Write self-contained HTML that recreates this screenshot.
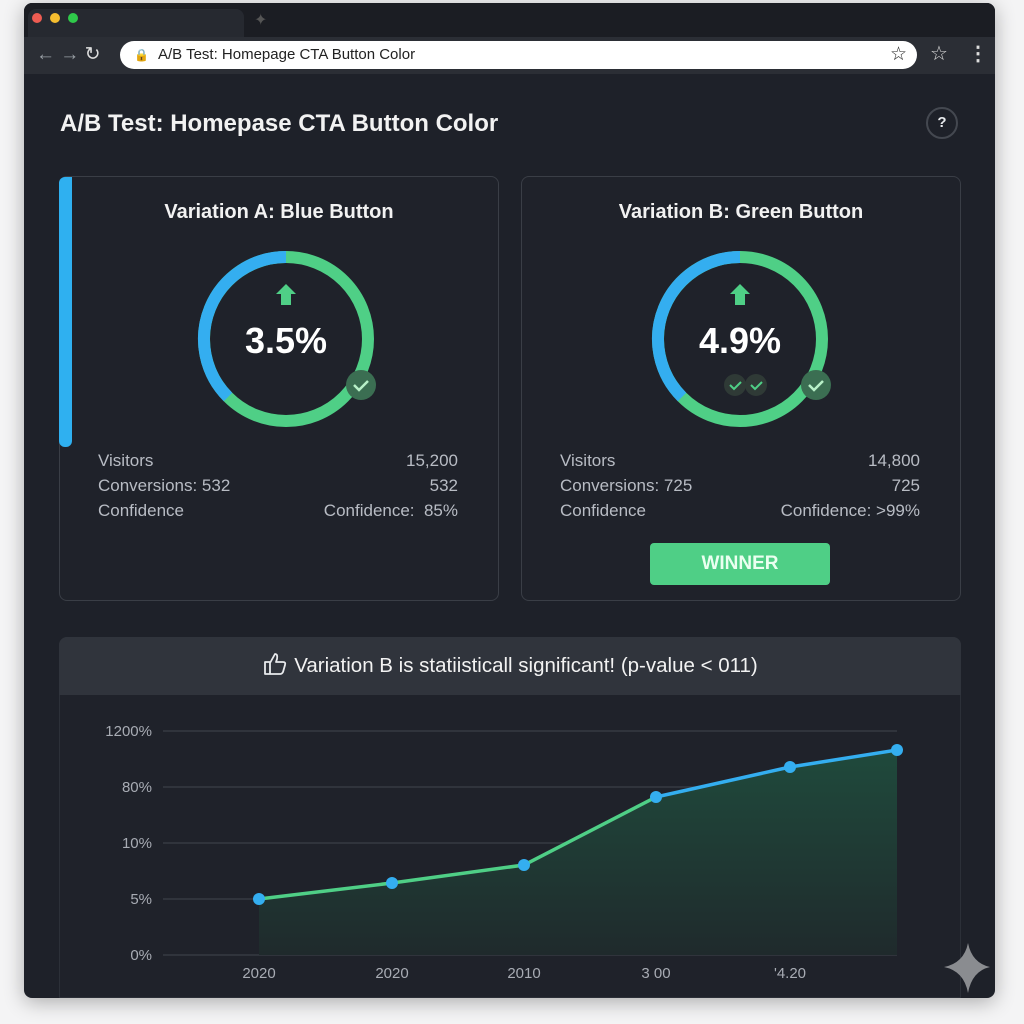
<!DOCTYPE html>
<html><head><meta charset="utf-8"><style>
*{margin:0;padding:0;box-sizing:border-box}
body{width:1024px;height:1024px;background:#f4f4f5;position:relative;overflow:hidden;font-family:"Liberation Sans",sans-serif;color:#e8eaed}
.win{position:absolute;left:24px;top:3px;width:971px;height:995px;background:#1e2129;border-radius:8px;overflow:hidden;box-shadow:0 4px 20px rgba(0,0,0,.3)}
.tabbar{position:absolute;left:0;top:0;width:100%;height:34px;background:#1b1d23}
.tab{position:absolute;left:4px;top:6px;width:216px;height:30px;background:#262930;border-radius:8px 8px 0 0}
.dot{position:absolute;top:10px;width:10px;height:10px;border-radius:50%}
.toolbar{position:absolute;left:0;top:34px;width:100%;height:37px;background:#2b2e35}
.url{position:absolute;left:96px;top:4px;width:797px;height:28px;background:#fff;border-radius:14px;color:#222;font-size:15px;line-height:28px;padding-left:38px}
.card{position:absolute;top:173px;width:440px;height:425px;border:1.5px solid #3a3e46;border-radius:8px;background:#1f222a}
.ct{position:absolute;top:24px;width:100%;text-align:center;font-size:20px;font-weight:bold;color:#f2f2f2}
.row{position:absolute;left:38px;right:40px;font-size:17px;color:#b8bcc4;display:flex;justify-content:space-between}
.big{position:absolute;width:100%;text-align:center;font-size:36px;font-weight:bold;color:#fff}
</style></head><body>
<div class="win">
 <div class="tabbar"><div class="tab"></div>
  <div class="dot" style="left:8px;background:#ee5c52"></div><div class="dot" style="left:26px;background:#f5bd2f"></div><div class="dot" style="left:44px;background:#2fc94a"></div>
  <div style="position:absolute;left:230px;top:7px;color:#555;font-size:16px">✦</div></div>
 <div class="toolbar">
  <div style="position:absolute;left:12px;top:6px;color:#9aa0a6;font-size:19px">← → <span style="color:#ddd">↻</span></div>
  <div class="url"><span style="position:absolute;left:14px;top:0;font-size:12px">🔒</span>A/B Test: Homepage CTA Button Color<span style="position:absolute;right:10px;top:0;font-size:19px">☆</span></div>
  <div style="position:absolute;left:906px;top:4px;color:#ddd;font-size:20px">☆</div>
  <div style="position:absolute;left:944px;top:4px;color:#ddd;font-size:20px;font-weight:bold">⋮</div>
 </div>
 <div style="position:absolute;left:36px;top:107px;font-size:24px;font-weight:bold;color:#f2f2f2">A/B Test: Homepase CTA Button Color</div>
 <div style="position:absolute;left:902px;top:104px;width:32px;height:32px;border:2px solid #444850;border-radius:50%;text-align:center;line-height:28px;font-size:15px;font-weight:bold">?</div>

 <div class="card" style="left:35px">
  <div style="position:absolute;left:-1px;top:0;width:13px;height:270px;background:#2fb0f0;border-radius:6px 0 6px 6px"></div>
  <div class="ct">Variation A: Blue Button</div>
  <svg style="position:absolute;left:0;top:0" width="440" height="300">
   <circle cx="226" cy="162" r="82" fill="none" stroke="#4fcf86" stroke-width="12"/>
   <path d="M226 80 A82 82 0 0 0 168 220" fill="none" stroke="#34aef0" stroke-width="12"/>
   <polygon points="226,107 236,117 231,117 231,128 221,128 221,117 216,117" fill="#4fcf86"/>
   <circle cx="301" cy="208" r="15" fill="#3b6e52"/>
   <path d="M294 208 l5 5 l9 -9" stroke="#b8f0c8" stroke-width="2.5" fill="none"/>
  </svg>
  <div class="big" style="left:0;top:143px;width:452px">3.5%</div>
  <div class="row" style="top:274px"><span>Visitors</span><span>15,200</span></div>
  <div class="row" style="top:299px"><span>Conversions: 532</span><span>532</span></div>
  <div class="row" style="top:324px"><span>Confidence</span><span>Confidence:&nbsp; 85%</span></div>
 </div>

 <div class="card" style="left:497px">
  <div class="ct">Variation B: Green Button</div>
  <svg style="position:absolute;left:0;top:0" width="440" height="300">
   <circle cx="218" cy="162" r="82" fill="none" stroke="#4fcf86" stroke-width="12"/>
   <path d="M218 80 A82 82 0 0 0 160 220" fill="none" stroke="#34aef0" stroke-width="12"/>
   <polygon points="218,107 228,117 223,117 223,128 213,128 213,117 208,117" fill="#4fcf86"/>
   <circle cx="294" cy="208" r="15" fill="#3b6e52"/>
   <path d="M287 208 l5 5 l9 -9" stroke="#b8f0c8" stroke-width="2.5" fill="none"/>
   <circle cx="213" cy="208" r="11" fill="#2f3a36"/><circle cx="234" cy="208" r="11" fill="#2f3a36"/>
   <path d="M208 208 l4 4 l7 -7 M229 208 l4 4 l7 -7" stroke="#4fcf86" stroke-width="2" fill="none"/>
  </svg>
  <div class="big" style="left:0;top:143px;width:436px">4.9%</div>
  <div class="row" style="top:274px"><span>Visitors</span><span>14,800</span></div>
  <div class="row" style="top:299px"><span>Conversions: 725</span><span>725</span></div>
  <div class="row" style="top:324px"><span>Confidence</span><span>Confidence: &gt;99%</span></div>
  <div style="position:absolute;left:128px;top:366px;width:180px;height:42px;background:#4fcf86;border-radius:4px;text-align:center;line-height:42px;font-size:19px;font-weight:bold;color:#eafff0">WINNER</div>
 </div>

 <div style="position:absolute;left:35px;top:634px;width:902px;height:361px;background:#1f222a;border:1px solid #2c3038;border-radius:8px 8px 0 0"></div>
 <div style="position:absolute;left:35px;top:634px;width:902px;height:58px;background:#30343c;border-radius:8px 8px 0 0;text-align:center;line-height:58px;font-size:20.5px;color:#f2f2f2">
  <svg width="26" height="26" viewBox="0 0 26 26" style="vertical-align:-5px;margin-right:6px"><path d="M3 11 h5 v12 h-5z M8 12 l5 -9 q3 0 2 5 l-1 3 h7 q3 0 2 3 l-2 7 q-1 2 -3 2 h-10" fill="none" stroke="#e8eaed" stroke-width="1.8" stroke-linejoin="round"/></svg>Variation B is statiisticall significant! (p-value &lt; 011)</div>
 <svg style="position:absolute;left:0;top:0" width="971" height="995">
  <defs><linearGradient id="g" x1="0" y1="0" x2="0" y2="1"><stop offset="0" stop-color="#1f4a3c"/><stop offset="1" stop-color="#1f2a2c"/></linearGradient></defs>
  <g stroke="#363a42" stroke-width="1.5">
   <line x1="139" y1="728" x2="873" y2="728"/><line x1="139" y1="784" x2="873" y2="784"/><line x1="139" y1="840" x2="873" y2="840"/><line x1="139" y1="896" x2="873" y2="896"/><line x1="139" y1="952" x2="873" y2="952"/>
  </g>
  <path d="M235 896 L368 880 L500 862 L632 794 L766 764 L873 747 L873 952 L235 952Z" fill="url(#g)"/>
  <polyline points="235,896 368,880 500,862 632,794" fill="none" stroke="#4fcf86" stroke-width="3.5"/>
  <polyline points="632,794 766,764 873,747" fill="none" stroke="#34aef0" stroke-width="3.5"/>
  <g fill="#34aef0"><circle cx="235" cy="896" r="6"/><circle cx="368" cy="880" r="6"/><circle cx="500" cy="862" r="6"/><circle cx="632" cy="794" r="6"/><circle cx="766" cy="764" r="6"/><circle cx="873" cy="747" r="6"/></g>
  <g fill="#a8acb4" font-family="Liberation Sans" font-size="15" text-anchor="end">
   <text x="128" y="733">1200%</text><text x="128" y="789">80%</text><text x="128" y="845">10%</text><text x="128" y="901">5%</text><text x="128" y="957">0%</text>
  </g>
  <g fill="#a8acb4" font-family="Liberation Sans" font-size="15" text-anchor="middle">
   <text x="235" y="975">2020</text><text x="368" y="975">2020</text><text x="500" y="975">2010</text><text x="632" y="975">3 00</text><text x="766" y="975">'4.20</text>
  </g>
  <path d="M944 940 Q948 960 966 964 Q948 968 944 990 Q940 968 920 964 Q940 960 944 940Z" fill="#8a8c90"/>
 </svg>
</div>
</body></html>
